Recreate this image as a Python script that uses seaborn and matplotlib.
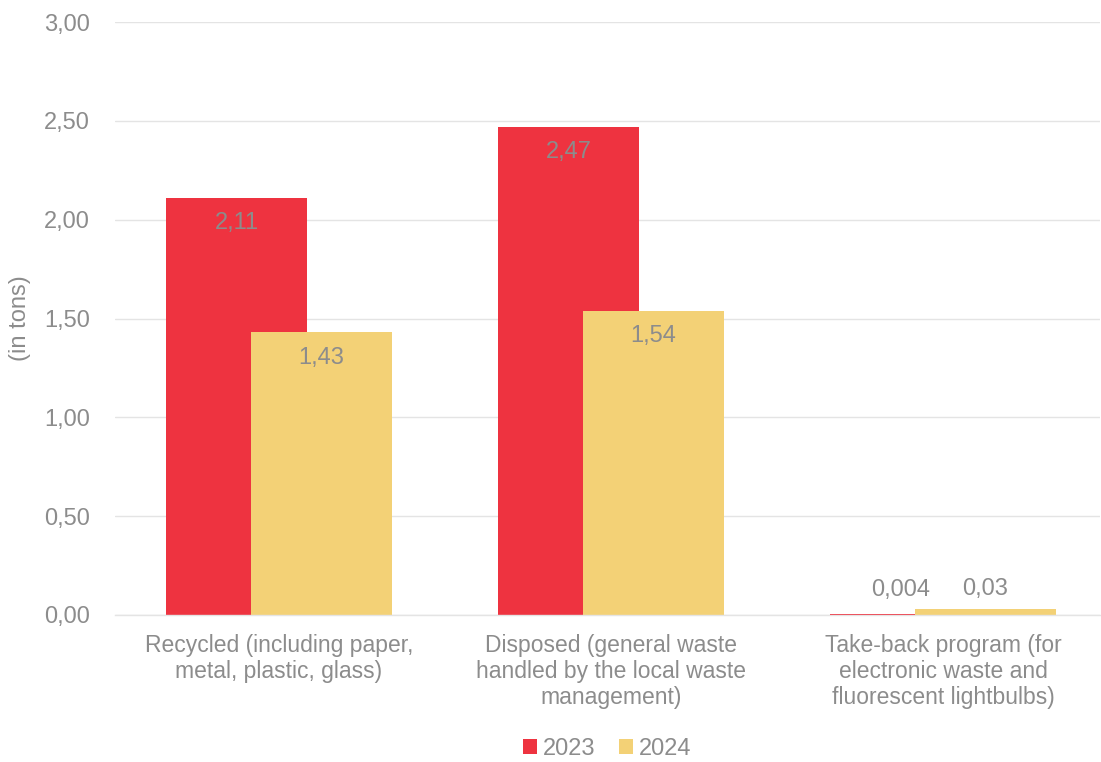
import matplotlib
matplotlib.use("Agg")
import matplotlib.pyplot as plt
import seaborn as sns
import numpy as np

categories = ["Recycled (including paper,\nmetal, plastic, glass)",
              "Disposed (general waste\nhandled by the local waste\nmanagement)",
              "Take-back program (for\nelectronic waste and\nfluorescent lightbulbs)"]
values_2023 = [2.11, 2.47, 0.004]
values_2024 = [1.43, 1.54, 0.03]
labels_2023 = ["2,11", "2,47", "0,004"]
labels_2024 = ["1,43", "1,54", "0,03"]
yticks = [0, 0.5, 1.0, 1.5, 2.0, 2.5, 3.0]
ytick_labels = ["0,00", "0,50", "1,00", "1,50", "2,00", "2,50", "3,00"]

RED = "#EE3340"
YEL = "#F3D176"
GRAY = "#8C8C8C"

sns.set_theme(style="white")
plt.rcParams['font.family'] = ['Liberation Sans', 'DejaVu Sans']

fig = plt.figure(figsize=(11.01, 7.62), dpi=100)
ax = fig.add_axes([115/1101, 1 - 615/762, (1100-115)/1101, (615-22)/762])

W = 0.425
OFF = 0.128
FS = 17

sns.barplot(x=categories, y=values_2023, color=RED, width=W, ax=ax,
            saturation=1, label="2023", linewidth=0, edgecolor="none")
n0 = len(ax.patches)
for p in ax.patches[:n0]:
    p.set_x(p.get_x() - OFF)
sns.barplot(x=categories, y=values_2024, color=YEL, width=W, ax=ax,
            saturation=1, label="2024", linewidth=0, edgecolor="none")
for p in ax.patches[n0:]:
    p.set_x(p.get_x() + OFF)

bars23 = ax.patches[:n0]
bars24 = ax.patches[n0:]
for bars, labs in ((bars23, labels_2023), (bars24, labels_2024)):
    for p, lab in zip(bars, labs):
        cx = p.get_x() + p.get_width() / 2
        h = p.get_height()
        if h > 0.2:
            ax.text(cx, h - 0.128, lab, ha="center", va="center", color=GRAY, fontsize=FS)
        else:
            ax.text(cx, h + 0.125 if h < 0.01 else h + 0.1, lab, ha="center", va="center",
                    color=GRAY, fontsize=FS)

ax.set_ylim(0, 3.0)
ax.set_xlim(-0.494, 2.473)
ax.set_yticks(yticks)
ax.set_yticklabels(ytick_labels, color=GRAY, fontsize=FS)
ax.tick_params(axis="x", colors=GRAY, labelsize=16.5, length=0, pad=14)
ax.tick_params(axis="y", length=0, pad=18)
for lab in ax.get_xticklabels():
    lab.set_color(GRAY)
    lab.set_linespacing(1.15)
ax.yaxis.grid(True, color="#E4E4E4", linewidth=1)
ax.set_axisbelow(True)
for s in ["top", "right", "left"]:
    ax.spines[s].set_visible(False)
ax.spines["bottom"].set_color("#E4E4E4")
ax.spines["bottom"].set_linewidth(1)
ax.set_ylabel("(in tons)", color=GRAY, fontsize=FS)
ax.yaxis.set_label_coords(-0.085, 0.5)

leg = ax.legend(loc="center", bbox_to_anchor=(0.5, (615 - 749) / (615 - 22)),
                ncol=2, frameon=False, fontsize=FS, handlelength=0.6,
                handleheight=0.6, handletextpad=0.25, columnspacing=1.0)
for t in leg.get_texts():
    t.set_color(GRAY)

fig.savefig("out.png", dpi=100)
